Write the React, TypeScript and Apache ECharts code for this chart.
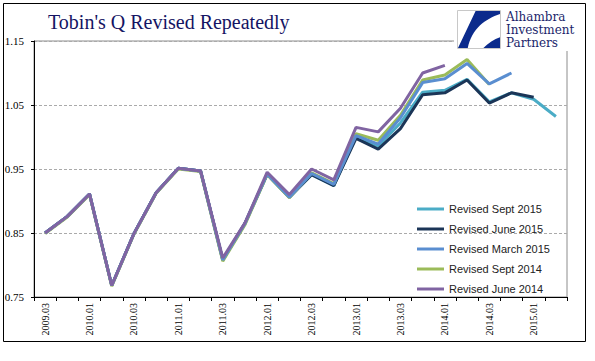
import React, { useEffect, useRef } from "react";
import * as echarts from "echarts";

const categories = [
  "2009.03", "2009.04", "2010.01", "2010.02", "2010.03", "2010.04",
  "2011.01", "2011.02", "2011.03", "2011.04", "2012.01", "2012.02",
  "2012.03", "2012.04", "2013.01", "2013.02", "2013.03", "2013.04",
  "2014.01", "2014.02", "2014.03", "2014.04", "2015.01", "2015.02",
];

const revisedSept2015 = [0.850, 0.876, 0.911, 0.768, 0.849, 0.913, 0.951, 0.947, 0.808, 0.865, 0.942, 0.906, 0.941, 0.924, 1.000, 0.986, 1.022, 1.070, 1.073, 1.090, 1.055, 1.069, 1.059, 1.032];
const revisedJune2015 = [0.850, 0.876, 0.911, 0.768, 0.849, 0.913, 0.951, 0.947, 0.808, 0.865, 0.942, 0.906, 0.941, 0.924, 0.998, 0.981, 1.013, 1.066, 1.069, 1.089, 1.053, 1.069, 1.062];
const revisedMarch2015 = [0.850, 0.876, 0.911, 0.768, 0.849, 0.913, 0.951, 0.947, 0.808, 0.865, 0.942, 0.906, 0.943, 0.926, 1.002, 0.989, 1.030, 1.085, 1.091, 1.115, 1.083, 1.100];
const revisedSept2014 = [0.849, 0.875, 0.910, 0.767, 0.848, 0.912, 0.950, 0.946, 0.806, 0.863, 0.941, 0.905, 0.944, 0.927, 1.005, 0.995, 1.034, 1.089, 1.097, 1.121, 1.082];
const revisedJune2014 = [0.850, 0.876, 0.911, 0.768, 0.849, 0.913, 0.951, 0.947, 0.811, 0.866, 0.945, 0.910, 0.950, 0.933, 1.015, 1.008, 1.045, 1.100, 1.112];

const seriesNames = ["Revised Sept 2015", "Revised June 2015", "Revised March 2015", "Revised Sept 2014", "Revised June 2014"];
const seriesColors = ["#4BACC6", "#1B3557", "#5A8ED0", "#9BBB59", "#8064A2"];
const seriesZ = [2, 3, 5, 4, 6];
const seriesValues = [revisedSept2015, revisedJune2015, revisedMarch2015, revisedSept2014, revisedJune2014];

const yTickMin = 0.75;
const yTickMax = 1.15;
const yTickStep = 0.1;

const logoA = "M18,0 L43,0 L43,3 C28,8 14,18 10,38 L0,38 Z";
const logoB = "M43,27 L43,38 L26,38 C31,33 37,29 43,27 Z";

let registered = false;
function registerLogo() {
  if (registered) return;
  echarts.graphic.registerShape("logoA", echarts.graphic.extendPath(logoA, {}) as any);
  echarts.graphic.registerShape("logoB", echarts.graphic.extendPath(logoB, {}) as any);
  registered = true;
}

export default function App() {
  const ref = useRef<HTMLDivElement>(null);
  useEffect(() => {
    document.body.style.margin = "0";
    registerLogo();
    const chart = echarts.init(ref.current!, null, { renderer: "svg" });
    const navy = "#1a1f6b";
    chart.setOption({
      animation: false,
      backgroundColor: "#ffffff",
      grid: {
        left: 34, right: 28, top: 41, bottom: 64,
        show: true, borderColor: "#8c8c8c", borderWidth: 1,
      },
      legend: {
        orient: "vertical",
        left: 412,
        top: 197,
        data: seriesNames,
        icon: "rect",
        itemWidth: 27,
        itemHeight: 3,
        itemGap: 6,
        textStyle: {
          fontFamily: "Liberation Sans, Arial",
          fontSize: 11,
          color: "#222",
          lineHeight: 14,
        },
      },
      xAxis: {
        type: "category",
        data: categories,
        boundaryGap: true,
        axisLine: { lineStyle: { color: "#000", width: 1 } },
        axisTick: { show: true, interval: 0, length: 4, lineStyle: { color: "#000" } },
        axisLabel: {
          interval: 1,
          rotate: 90,
          margin: 6,
          fontFamily: "Liberation Serif",
          fontSize: 10,
          color: "#000",
        },
        splitLine: { show: false },
      },
      yAxis: {
        type: "value",
        min: yTickMin,
        max: yTickMax,
        interval: yTickStep,
        axisLine: { show: true, lineStyle: { color: "#000", width: 1 } },
        axisTick: { show: true, length: 3, lineStyle: { color: "#000" } },
        axisLabel: {
          margin: 10,
          fontFamily: "Liberation Serif",
          fontSize: 11,
          color: "#000",
          formatter: (v: number) => v.toFixed(2),
        },
        splitLine: { show: true, lineStyle: { color: "#aaaaaa", type: [3, 2], width: 1 } },
      },
      series: seriesNames.map((name, i) => ({
        name,
        type: "line",
        data: seriesValues[i],
        z: seriesZ[i],
        showSymbol: false,
        symbol: "none",
        lineStyle: { color: seriesColors[i], width: 3 },
        itemStyle: { color: seriesColors[i] },
      })),
      graphic: [
        {
          type: "rect", z: 100,
          shape: { x: 454, y: 5, width: 130, height: 46 },
          style: { fill: "#ffffff" },
        },
        {
          type: "rect", z: 101,
          shape: { x: 457.5, y: 10.5, width: 43, height: 38 },
          style: { fill: "#ffffff", stroke: "#c8c8c8", lineWidth: 1 },
        },
        { type: "logoA", z: 102, x: 458, y: 11, scaleX: 42 / 43, scaleY: 37 / 38, style: { fill: "#0b2b8c" } },
        { type: "logoB", z: 102, x: 458, y: 11, scaleX: 42 / 43, scaleY: 37 / 38, style: { fill: "#0b2b8c" } },
        {
          type: "text", z: 102, x: 506, y: 17,
          style: { text: "Alhambra", fontFamily: "DejaVu Serif", fontSize: 12, fill: navy, verticalAlign: "middle" },
        },
        {
          type: "text", z: 102, x: 506, y: 30,
          style: { text: "Investment", fontFamily: "DejaVu Serif", fontSize: 12, fill: navy, verticalAlign: "middle" },
        },
        {
          type: "text", z: 102, x: 506, y: 43,
          style: { text: "Partners", fontFamily: "DejaVu Serif", fontSize: 12, fill: navy, verticalAlign: "middle" },
        },
        {
          type: "text", z: 102, x: 48, y: 22,
          style: { text: "Tobin's Q Revised Repeatedly", fontFamily: "Liberation Serif", fontSize: 20, fill: "#141463", verticalAlign: "middle" },
        },
        {
          type: "rect", z: 103,
          shape: { x: 3.5, y: 3.5, width: 582, height: 338 },
          style: { fill: "none", stroke: "#000", lineWidth: 1 },
        },
      ],
    });
    return () => chart.dispose();
  }, []);
  return (
    <div
      ref={ref}
      style={{ position: "absolute", left: 0, top: 0, width: 595, height: 361 }}
    />
  );
}
